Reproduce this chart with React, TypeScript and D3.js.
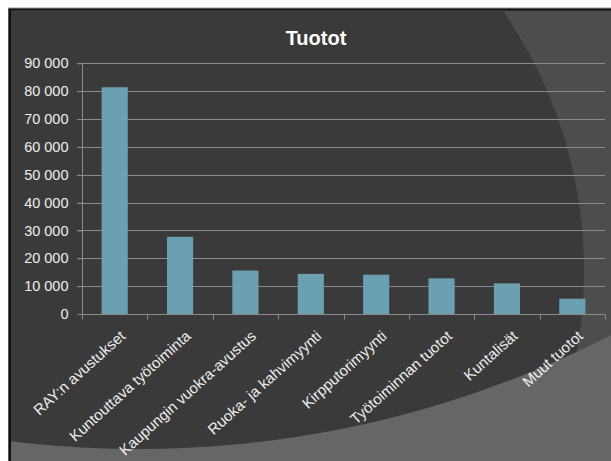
import * as d3 from "d3";
import { useEffect, useRef } from "react";

const categories = [
  "RAY:n avustukset",
  "Kuntouttava työtoiminta",
  "Kaupungin vuokra-avustus",
  "Ruoka- ja kahvimyynti",
  "Kirpputorimyynti",
  "Työtoiminnan tuotot",
  "Kuntalisät",
  "Muut tuotot",
];
const values = [81400, 27700, 15600, 14400, 14100, 12800, 11000, 5500];
const yTicks = [0, 10000, 20000, 30000, 40000, 50000, 60000, 70000, 80000, 90000];
const title = "Tuotot";

const W = 611;
const H = 461;
const FONT = "'Liberation Sans', Arial, sans-serif";

const fmt = (v: number) => d3.format(",")(v).replace(/,/g, " ");

const draw = (el: SVGSVGElement) => {
  const svg = d3.select(el);
  svg.selectAll("*").remove();

  // slide background
  svg.append("rect").attr("width", W).attr("height", H).attr("fill", "#ffffff");
  svg.append("rect").attr("x", 8).attr("y", 7.5).attr("width", W).attr("height", H).attr("fill", "#9a9a9a");
  svg.append("rect").attr("x", 8.5).attr("y", 8.5).attr("width", W).attr("height", H).attr("fill", "#111111");
  const clip = svg.append("defs").append("clipPath").attr("id", "bgclip");
  clip.append("rect").attr("x", 11).attr("y", 10.5).attr("width", W).attr("height", H);
  const bg = svg.append("g").attr("clip-path", "url(#bgclip)");
  bg.append("rect").attr("x", 0).attr("y", 0).attr("width", W).attr("height", H).attr("fill", "#4d4d4d");
  bg.append("circle").attr("cx", 126).attr("cy", 271).attr("r", 458).attr("fill", "#3a3a3a");
  // lighter lower area outside the big arc
  bg.append("path")
    .attr("d", `M0,0 H${W} V${H} H0 Z M${138 - 1041},-592 a1041,1041 0 1,0 2082,0 a1041,1041 0 1,0 -2082,0 Z`)
    .attr("fill", "#666666")
    .attr("fill-rule", "evenodd");

  const margin = { left: 82, right: 6, top: 63.3, bottom: 147 };
  const x0 = margin.left;
  const x1 = W - margin.right;
  const y0 = H - margin.bottom;

  const x = d3.scaleBand().domain(categories).range([x0, x1]).paddingInner(0.6).paddingOuter(0.3);
  const xb = d3.scaleBand().domain(categories).range([x0, x1]);
  const y = d3.scaleLinear().domain([0, 90000]).range([y0, margin.top]);

  const g = svg.append("g");

  // grid
  g.selectAll("line.grid")
    .data(yTicks.filter((t) => t > 0))
    .join("line")
    .attr("class", "grid")
    .attr("x1", x0 - 5)
    .attr("x2", x1)
    .attr("y1", (d) => Math.round(y(d)) + 0.5)
    .attr("y2", (d) => Math.round(y(d)) + 0.5)
    .attr("stroke", "#8a8a8a")
    .attr("stroke-width", 1);

  // bars
  g.selectAll("rect.bar")
    .data(values)
    .join("rect")
    .attr("class", "bar")
    .attr("x", (_, i) => x(categories[i])!)
    .attr("width", x.bandwidth())
    .attr("y", (d) => y(d))
    .attr("height", (d) => y0 - y(d))
    .attr("fill", "#6aa0b2");

  // y axis
  const ya = g.append("g").attr("transform", `translate(${x0 + 0.5},0)`)
    .call(d3.axisLeft(y).tickValues(yTicks).tickSize(5).tickPadding(9).tickFormat((d) => fmt(d as number)));
  ya.attr("font-size", null).attr("font-family", null);
  ya.select(".domain").attr("stroke", "#8a8a8a").attr("d", `M-5,${y0 + 0.5}H0V${Math.round(margin.top) + 0.5}`);
  ya.selectAll(".tick line").attr("stroke", "#8a8a8a");
  ya.selectAll(".tick text")
    .attr("fill", "#eeeeee")
    .attr("font-size", 14.5)
    .attr("font-family", FONT);

  // x axis
  const xa = g.append("g").attr("transform", `translate(0,${Math.round(y0) + 0.5})`);
  xa.append("line").attr("x1", x0).attr("x2", x1).attr("stroke", "#8a8a8a");
  xa.selectAll("line.tk")
    .data([...categories.map((c) => xb(c)!), x1])
    .join("line")
    .attr("class", "tk")
    .attr("x1", (d) => Math.round(d) + 0.5)
    .attr("x2", (d) => Math.round(d) + 0.5)
    .attr("y1", 0)
    .attr("y2", 5)
    .attr("stroke", "#8a8a8a");
  xa.selectAll("text")
    .data(categories)
    .join("text")
    .attr("transform", (d) => `translate(${xb(d)! + xb.bandwidth() / 2 + 4.5},15) rotate(-42)`)
    .attr("text-anchor", "end")
    .attr("dy", "0.71em")
    .attr("fill", "#eeeeee")
    .attr("font-size", 15)
    .attr("font-family", FONT)
    .text((d) => d);

  // title
  svg.append("text")
    .attr("x", 316)
    .attr("y", 45)
    .attr("text-anchor", "middle")
    .attr("fill", "#ffffff")
    .attr("font-size", 20)
    .attr("font-weight", "bold")
    .attr("font-family", FONT)
    .text(title);
};

export default function App() {
  const ref = useRef<SVGSVGElement>(null);
  useEffect(() => {
    if (ref.current) draw(ref.current);
  }, []);
  return (
    <svg ref={ref} width={W} height={H} style={{ position: "absolute", left: 0, top: 0, display: "block" }} />
  );
}
